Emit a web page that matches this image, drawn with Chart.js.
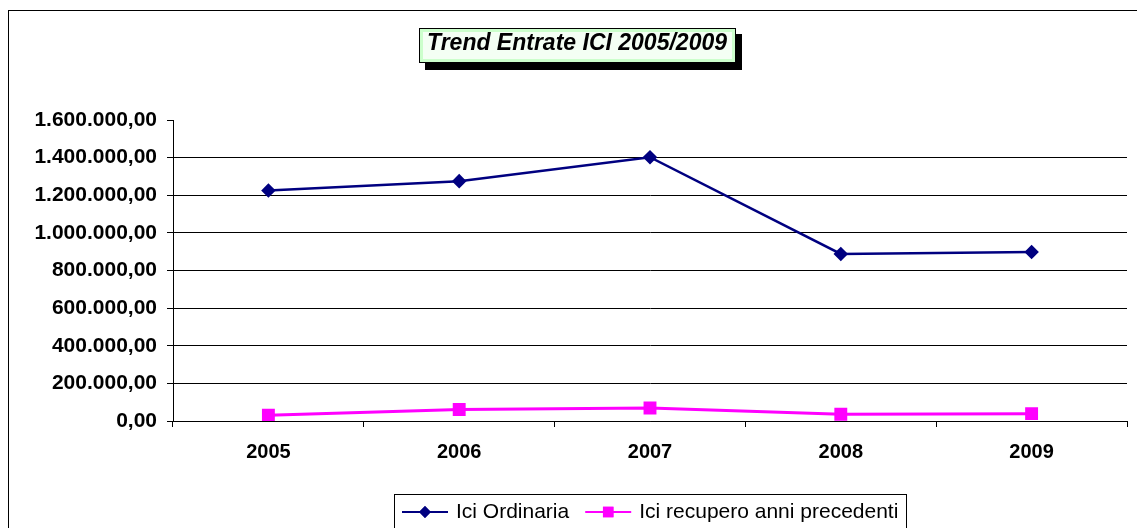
<!DOCTYPE html>
<html>
<head>
<meta charset="utf-8">
<title>Trend Entrate ICI 2005/2009</title>
<script src="https://cdn.jsdelivr.net/npm/chart.js@4/dist/chart.umd.min.js"></script>
<style>
  html, body { margin: 0; padding: 0; background: #fff; }
  canvas { display: block; }
</style>
</head>
<body>
<canvas id="iciChart" width="1137" height="528"></canvas>
<script>
// Dati
const years = ['2005', '2006', '2007', '2008', '2009'];
const iciOrdinaria = [1225000, 1275000, 1402000, 888000, 898000];
const iciRecupero = [31000, 61000, 69000, 36000, 39000];
const yTicks = [0, 200000, 400000, 600000, 800000, 1000000, 1200000, 1400000, 1600000];

const FONT = '"Liberation Sans", Arial, sans-serif';

function formatEuro(v) {
    const s = Math.round(v).toString().replace(/\B(?=(\d{3})+(?!\d))/g, '.');
    return s + ',00';
}

// Outer frame + title box with shadow
const framePlugin = {
    id: 'frame',
    beforeDraw(chart) {
        const ctx = chart.ctx;
        ctx.save();
        ctx.fillStyle = '#fff';
        ctx.fillRect(0, 0, chart.width, chart.height);
        ctx.strokeStyle = '#000';
        ctx.lineWidth = 1;
        ctx.strokeRect(8.5, 10.5, chart.width + 20, chart.height + 20);
        ctx.restore();
    },
    afterDraw(chart) {
        const ctx = chart.ctx;
        const title = 'Trend Entrate ICI 2005/2009';
        ctx.save();
        ctx.font = 'italic bold 23px ' + FONT;
        const tw = ctx.measureText(title).width;
        const cx = 577;
        const bx = Math.round(cx - tw / 2 - 8), by = 28;
        const bw = Math.round(tw + 17), bh = 35;
        // shadow
        ctx.fillStyle = '#000';
        ctx.fillRect(bx + 6, by + 6, bw, bh + 1);
        // box
        ctx.fillStyle = '#ccffcc';
        ctx.fillRect(bx, by, bw, bh);
        ctx.fillStyle = '#f4fff4';
        ctx.fillRect(bx + 4, by + 4, bw - 8, bh - 8);
        ctx.strokeStyle = '#000';
        ctx.lineWidth = 1;
        ctx.strokeRect(bx + 0.5, by + 0.5, bw - 1, bh - 1);
        ctx.fillStyle = '#000';
        ctx.textAlign = 'center';
        ctx.textBaseline = 'alphabetic';
        ctx.fillText(title, cx, 50);
        ctx.restore();
    }
};

// Legend in box, line + marker like the original
const legendPlugin = {
    id: 'boxLegend',
    afterDraw(chart) {
        const ctx = chart.ctx;
        const sets = chart.data.datasets;
        ctx.save();
        ctx.font = '21px ' + FONT;
        const lineLen = 46, gap = 8, itemGap = 16;
        let total = 0;
        sets.forEach((ds, i) => {
            total += lineLen + gap + ctx.measureText(ds.label).width;
            if (i < sets.length - 1) total += itemGap;
        });
        const left = 394, top = 494;
        const boxW = Math.round(total + 16);
        ctx.strokeStyle = '#000';
        ctx.lineWidth = 1;
        ctx.strokeRect(left + 0.5, top + 0.5, boxW, 60);
        let x = left + 8;
        const y = 512;
        sets.forEach(ds => {
            ctx.strokeStyle = ds.borderColor;
            ctx.lineWidth = 2;
            ctx.beginPath();
            ctx.moveTo(x, y);
            ctx.lineTo(x + lineLen, y);
            ctx.stroke();
            Chart.helpers.drawPoint(ctx, {
                pointStyle: ds.pointStyle,
                radius: ds.legendRadius,
                borderWidth: 1,
                rotation: 0
            }, x + lineLen / 2, y);
            ctx.fillStyle = ds.pointBackgroundColor;
            ctx.strokeStyle = ds.pointBorderColor;
            ctx.fill();
            ctx.stroke();
            x += lineLen + gap;
            ctx.fillStyle = '#000';
            ctx.textAlign = 'left';
            ctx.textBaseline = 'middle';
            ctx.fillText(ds.label, x, y);
            x += ctx.measureText(ds.label).width + itemGap;
        });
        ctx.restore();
    }
};

const ctx = document.getElementById('iciChart').getContext('2d');
const iciChart = new Chart(ctx, {
    type: 'line',
    data: {
        labels: years,
        datasets: [{
            label: 'Ici Ordinaria',
            data: iciOrdinaria,
            borderColor: '#000080',
            backgroundColor: '#000080',
            pointBackgroundColor: '#000080',
            pointBorderColor: '#000080',
            borderWidth: 2.5,
            pointStyle: 'rectRot',
            pointRadius: 5.5,
            legendRadius: 4.5,
            tension: 0
        }, {
            label: 'Ici recupero anni precedenti',
            data: iciRecupero,
            borderColor: '#ff00ff',
            backgroundColor: '#ff00ff',
            pointBackgroundColor: '#ff00ff',
            pointBorderColor: '#ff00ff',
            borderWidth: 3,
            pointStyle: 'rect',
            pointRadius: 7,
            legendRadius: 6,
            tension: 0
        }]
    },
    options: {
        responsive: false,
        animation: false,
        layout: { padding: { left: 10, right: 7, top: 120, bottom: 0 } },
        plugins: {
            legend: { display: false },
            title: { display: false },
            tooltip: { enabled: false }
        },
        scales: {
            x: {
                type: 'category',
                offset: true,
                grid: {
                    offset: true,
                    drawOnChartArea: false,
                    color: '#000',
                    tickLength: 6
                },
                border: { display: true, color: '#000', width: 1 },
                ticks: {
                    color: '#000',
                    padding: 13,
                    font: { family: FONT, size: 20, weight: 'bold' }
                },
                afterFit(scale) { scale.height = 107; }
            },
            y: {
                min: 0,
                max: 1600000,
                afterBuildTicks(scale) {
                    scale.ticks = yTicks.map(v => ({ value: v }));
                },
                grid: {
                    color: c => (c.tick && c.tick.value === 1600000) ? 'rgba(0,0,0,0)' : '#000',
                    tickColor: '#000',
                    tickLength: 6
                },
                border: { display: true, color: '#000', width: 1 },
                ticks: {
                    color: '#000',
                    padding: 10,
                    font: { family: FONT, size: 21, weight: 'bold' },
                    callback: v => formatEuro(v)
                },
                afterFit(scale) { scale.width = 163; }
            }
        }
    },
    plugins: [framePlugin, legendPlugin]
});
</script>
</body>
</html>
